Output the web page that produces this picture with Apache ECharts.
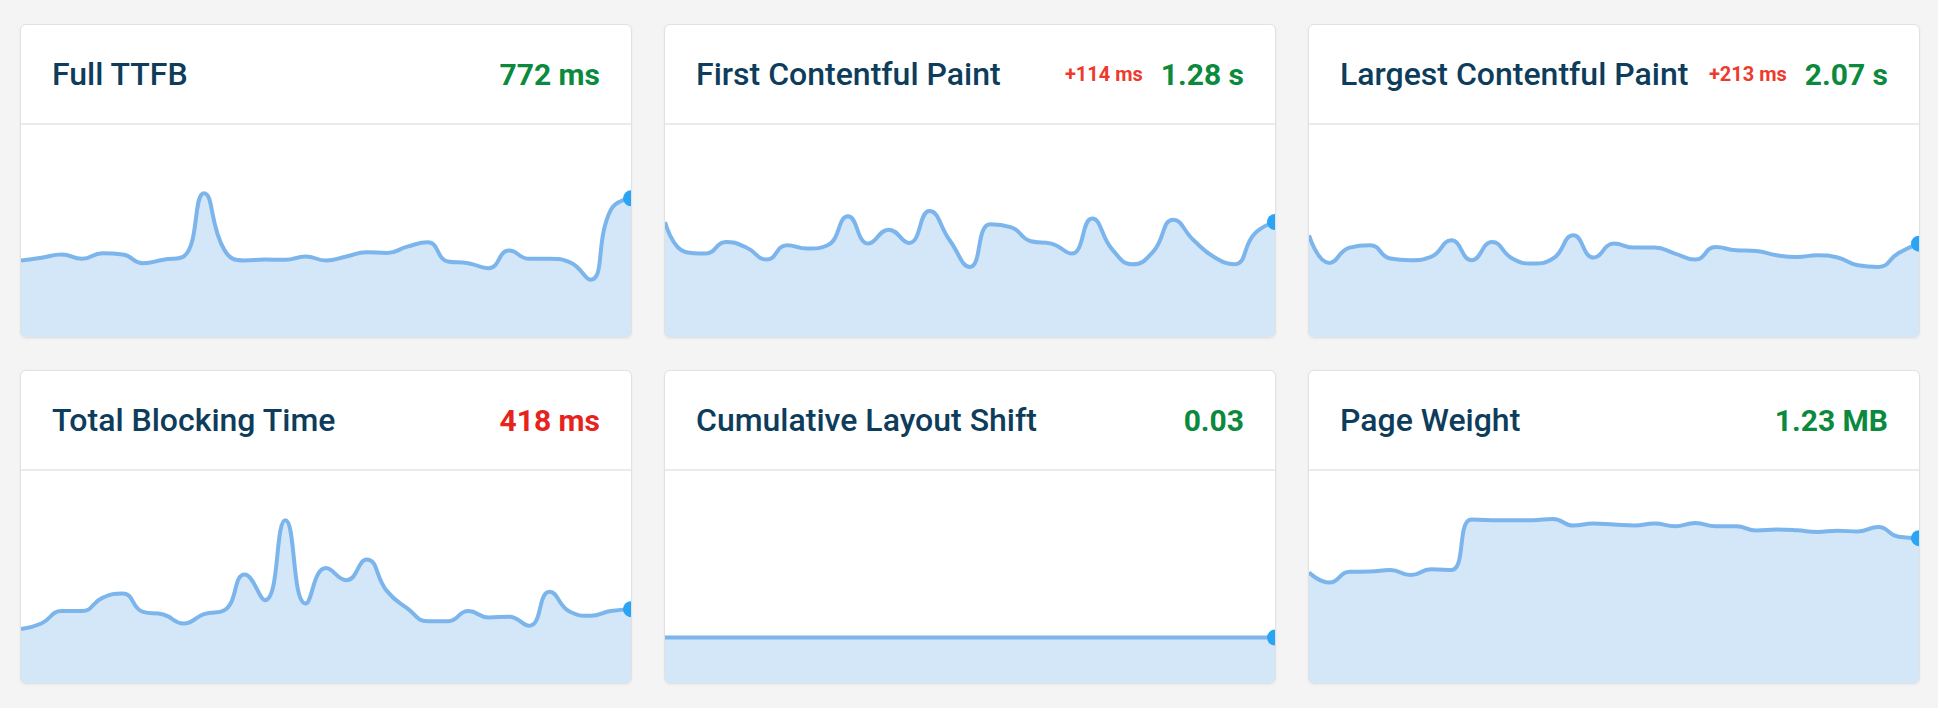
<!DOCTYPE html>
<html>
<head>
<meta charset="utf-8">
<title>Metrics</title>
<script src="https://cdn.jsdelivr.net/npm/echarts/dist/echarts.min.js"></script>
<style>
  html, body { margin: 0; padding: 0; background: #f4f4f4; }
  .grid {
    position: absolute; left: 20px; top: 24px;
    display: grid;
    grid-template-columns: repeat(3, 612px);
    grid-template-rows: repeat(2, 314px);
    column-gap: 32px; row-gap: 32px;
  }
  .card {
    background: #fff; border: 1px solid #e1e1e1; border-radius: 6px;
    overflow: hidden; box-sizing: border-box;
    box-shadow: 0 1px 3px rgba(0,0,0,0.05);
  }
  .head {
    height: 98px; border-bottom: 2px solid #ebebeb;
    display: flex; align-items: center; padding: 0 31px 0 31px;
    font-family: Roboto, "Noto Sans", sans-serif;
  }
  .title { flex: 1; font-size: 32px; font-weight: 500; color: #0e3c5b; white-space: nowrap; }
  .delta { font-size: 20px; font-weight: 700; color: #ee3a2c; margin-right: 18px; }
  .value { font-size: 30px; font-weight: 700; color: #0b8a3d; }
  .value.bad { color: #e6231c; }
  .chart { width: 610px; height: 212px; }
</style>
</head>
<body>
<div class="grid" id="grid"></div>
<script>
// days of the period
var categories = ['1','2','3','4','5','6','7','8','9','10','11','12','13','14','15','16',
  '17','18','19','20','21','22','23','24','25','26','27','28','29','30','31'];

// Full TTFB (ms)
var ttfbValues = [426, 441, 459, 435, 466, 459, 411, 430, 448, 800, 485, 426, 431, 430, 448, 426,
  448, 472, 468, 503, 527, 420, 411, 383, 481, 435, 435, 416, 319, 706, 772];
// First Contentful Paint (ms)
var fcpValues = [1280, 947, 929, 1058, 996, 862, 1021, 985, 1021, 1343, 1040, 1195, 1047, 1402, 1077, 780,
  1254, 1224, 1066, 1040, 929, 1318, 973, 810, 947, 1306, 1077, 891, 810, 1151, 1280];
// Largest Contentful Paint (ms)
var lcpValues = [2254, 1642, 1982, 2033, 1739, 1702, 1775, 2144, 1702, 2106, 1739, 1629, 1739, 2254, 1761, 2071,
  1982, 1982, 1850, 1717, 1996, 1923, 1907, 1812, 1775, 1812, 1761, 1591, 1554, 1863, 2070];
// Total Blocking Time (ms)
var tbtValues = [305, 337, 407, 407, 482, 507, 403, 388, 337, 390, 412, 614, 469, 921, 450, 651,
  582, 699, 520, 422, 350, 350, 407, 371, 375, 324, 516, 403, 380, 407, 418];
// Cumulative Layout Shift
var clsValues = [0.03, 0.03, 0.03, 0.03, 0.03, 0.03, 0.03, 0.03, 0.03, 0.03, 0.03, 0.03, 0.03, 0.03, 0.03, 0.03,
  0.03, 0.03, 0.03, 0.03, 0.03, 0.03, 0.03, 0.03, 0.03, 0.03, 0.03, 0.03, 0.03, 0.03, 0.03];
// Page Weight (MB)
var pageWeightValues = [0.938, 0.853, 0.944, 0.946, 0.960, 0.916, 0.966, 0.960, 1.388, 1.382, 1.382, 1.382, 1.393, 1.337, 1.354, 1.345,
  1.337, 1.354, 1.331, 1.359, 1.331, 1.331, 1.295, 1.303, 1.297, 1.283, 1.292, 1.287, 1.325, 1.241, 1.230];

var titles = ['Full TTFB', 'First Contentful Paint', 'Largest Contentful Paint',
  'Total Blocking Time', 'Cumulative Layout Shift', 'Page Weight'];
var valueLabels = ['772 ms', '1.28 s', '2.07 s', '418 ms', '0.03', '1.23 MB'];
var deltaLabels = ['', '+114 ms', '+213 ms', '', '', ''];
var axisMax = [1180, 2360, 4700, 1200, 0.14, 1.8];

var seriesList = [ttfbValues, fcpValues, lcpValues, tbtValues, clsValues, pageWeightValues];
var grid = document.getElementById('grid');

for (var i = 0; i < titles.length; i++) {
  var card = document.createElement('div');
  card.className = 'card';
  var html = '<div class="head"><span class="title">' + titles[i] + '</span>';
  if (deltaLabels[i]) html += '<span class="delta">' + deltaLabels[i] + '</span>';
  html += '<span class="value' + (i === 3 ? ' bad' : '') + '">' + valueLabels[i] + '</span></div>';
  html += '<div class="chart"></div>';
  card.innerHTML = html;
  grid.appendChild(card);

  var data = seriesList[i];
  var chart = echarts.init(card.querySelector('.chart'));
  chart.setOption({
    animation: false,
    grid: { left: 0, right: 0, top: 0, bottom: 0 },
    xAxis: { type: 'category', data: categories, boundaryGap: false, show: false },
    yAxis: { type: 'value', min: 0, max: axisMax[i], show: false },
    series: [{
      type: 'line',
      data: data,
      smooth: 0.5,
      showSymbol: true,
      symbol: 'circle',
      symbolSize: function (val, params) {
        return params.dataIndex === data.length - 1 ? 16 : 0;
      },
      itemStyle: { color: '#2aa4f4' },
      lineStyle: { color: '#7cb5ec', width: 4 },
      areaStyle: { color: '#7cb5ec', opacity: 0.33 },
      clip: false
    }]
  });
}
</script>
</body>
</html>
